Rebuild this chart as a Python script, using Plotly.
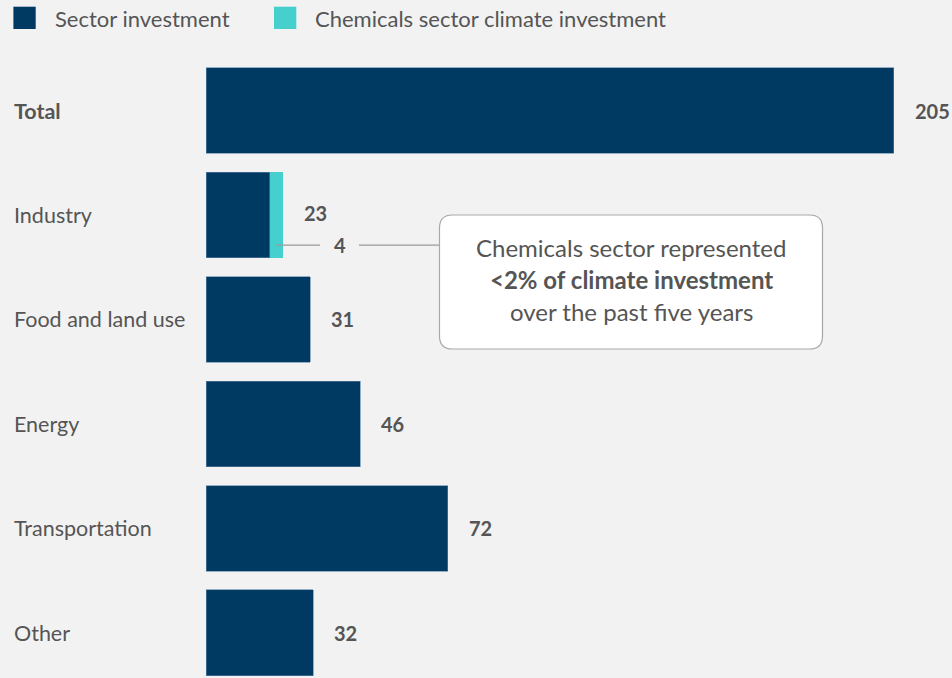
import plotly.graph_objects as go

# Climate investment by sector
categories = ["Total", "Industry", "Food and land use", "Energy", "Transportation", "Other"]
sector_investment = [205, 19, 31, 46, 72, 32]
chemicals_investment = [0, 4, 0, 0, 0, 0]
totals = [s + c for s, c in zip(sector_investment, chemicals_investment)]

NAVY = "#003a63"
TEAL = "#45cfcd"
BG = "#f2f2f2"
TEXT = "#555555"
FONT = "Source Sans Pro, Lato, sans-serif"

# Plot-area geometry (pixels)
W_FIG, H_FIG = 952, 678
L, T = 206, 60
W, H = W_FIG - L, H_FIG - T
PX_PER_UNIT = 3.355
X_MAX = W / PX_PER_UNIT
Y_RANGE = [5.433, -0.4845]
PX_PER_CAT = H / (Y_RANGE[0] - Y_RANGE[1])


def px_x(px):
    return (px - L) / W


def px_y(py):
    return 1 - (py - T) / H


fig = go.Figure()
fig.add_trace(go.Bar(
    y=categories, x=sector_investment, orientation="h", name="Sector investment",
    marker=dict(color=NAVY, line=dict(color="#5b80a3", width=0.6)),
    width=0.82, hoverinfo="x+y",
))
fig.add_trace(go.Bar(
    y=categories, x=chemicals_investment, orientation="h",
    name="Chemicals sector climate investment",
    marker=dict(color=TEAL, line=dict(width=0)),
    width=0.82, hoverinfo="x+y",
))

annotations = []
shapes = []

# Category labels, left aligned
for cat in categories:
    label = f"<b>{cat}</b>" if cat == "Total" else cat
    annotations.append(dict(
        text=label, xref="paper", x=px_x(12), xanchor="left",
        yref="y", y=cat, yanchor="middle", showarrow=False,
        font=dict(family=FONT, size=21.5, color=TEXT),
    ))

# Value labels
for cat, v in zip(categories, totals):
    annotations.append(dict(
        text=f"<b>{v}</b>", xref="x", x=v, xanchor="left", xshift=19,
        yref="y", y=cat, yanchor="middle", yshift=2 if cat == "Industry" else 0,
        showarrow=False, font=dict(family=FONT, size=20, color=TEXT),
    ))

# Chemicals value callout
ind = categories.index("Industry")
chem = chemicals_investment[ind]
y_call = ind + 30 / PX_PER_CAT
x_teal_mid = sector_investment[ind] + chem * 0.5
shapes.append(dict(type="line", xref="x", yref="y", x0=x_teal_mid, x1=(320 - L) / PX_PER_UNIT,
                   y0=y_call, y1=y_call, line=dict(color="#9a9a9a", width=1.2)))
shapes.append(dict(type="line", xref="x", yref="y", x0=(359 - L) / PX_PER_UNIT, x1=(439.5 - L) / PX_PER_UNIT,
                   y0=y_call, y1=y_call, line=dict(color="#9a9a9a", width=1.2)))
annotations.append(dict(
    text=f"<b>{chem}</b>", xref="x", x=(340 - L) / PX_PER_UNIT, xanchor="center",
    yref="y", y=y_call, yanchor="middle", showarrow=False,
    font=dict(family=FONT, size=20, color=TEXT),
))

# Rounded callout box
bx0, bx1, by0, by1, r = 439.5, 822.5, 215, 349, 13


def pt(px, py):
    return f"{px_x(px):.5f},{px_y(py):.5f}"


path = (
    f"M {pt(bx0 + r, by0)} L {pt(bx1 - r, by0)} Q {pt(bx1, by0)} {pt(bx1, by0 + r)} "
    f"L {pt(bx1, by1 - r)} Q {pt(bx1, by1)} {pt(bx1 - r, by1)} "
    f"L {pt(bx0 + r, by1)} Q {pt(bx0, by1)} {pt(bx0, by1 - r)} "
    f"L {pt(bx0, by0 + r)} Q {pt(bx0, by0)} {pt(bx0 + r, by0)} Z"
)
shapes.append(dict(type="path", xref="paper", yref="paper", path=path,
                   fillcolor="white", line=dict(color="#a8a8a8", width=1.2), layer="above"))

box_lines = ["Chemicals sector represented", "<b>&lt;2% of climate investment</b>",
             "over the past five years"]
for k, line in enumerate(box_lines):
    annotations.append(dict(
        text=line, xref="paper", x=px_x((bx0 + bx1) / 2), xanchor="center",
        yref="paper", y=px_y(247.5 + 32.2 * k), yanchor="middle", showarrow=False,
        font=dict(family=FONT, size=24, color=TEXT),
    ))

# Legend drawn as swatches and labels
legend_items = [("Sector investment", NAVY, 13.4, 53), ("Chemicals sector climate investment", TEAL, 274, 313)]
for name, color, sx, tx in legend_items:
    shapes.append(dict(type="rect", xref="paper", yref="paper",
                       x0=px_x(sx), x1=px_x(sx + 22.3), y0=px_y(6.7), y1=px_y(29),
                       fillcolor=color, line=dict(width=0)))
    annotations.append(dict(
        text=name, xref="paper", x=px_x(tx), xanchor="left",
        yref="paper", y=px_y(18), yanchor="middle", showarrow=False,
        font=dict(family=FONT, size=22, color=TEXT),
    ))

fig.update_layout(
    barmode="stack", width=W_FIG, height=H_FIG,
    margin=dict(l=L, r=0, t=T, b=0, pad=0),
    paper_bgcolor=BG, plot_bgcolor=BG, showlegend=False,
    xaxis=dict(range=[0, X_MAX], visible=False, fixedrange=True),
    yaxis=dict(type="category", categoryarray=categories, range=Y_RANGE,
               visible=False, fixedrange=True),
    annotations=annotations, shapes=shapes,
    font=dict(family=FONT, color=TEXT),
)

fig.write_html("out.html")
